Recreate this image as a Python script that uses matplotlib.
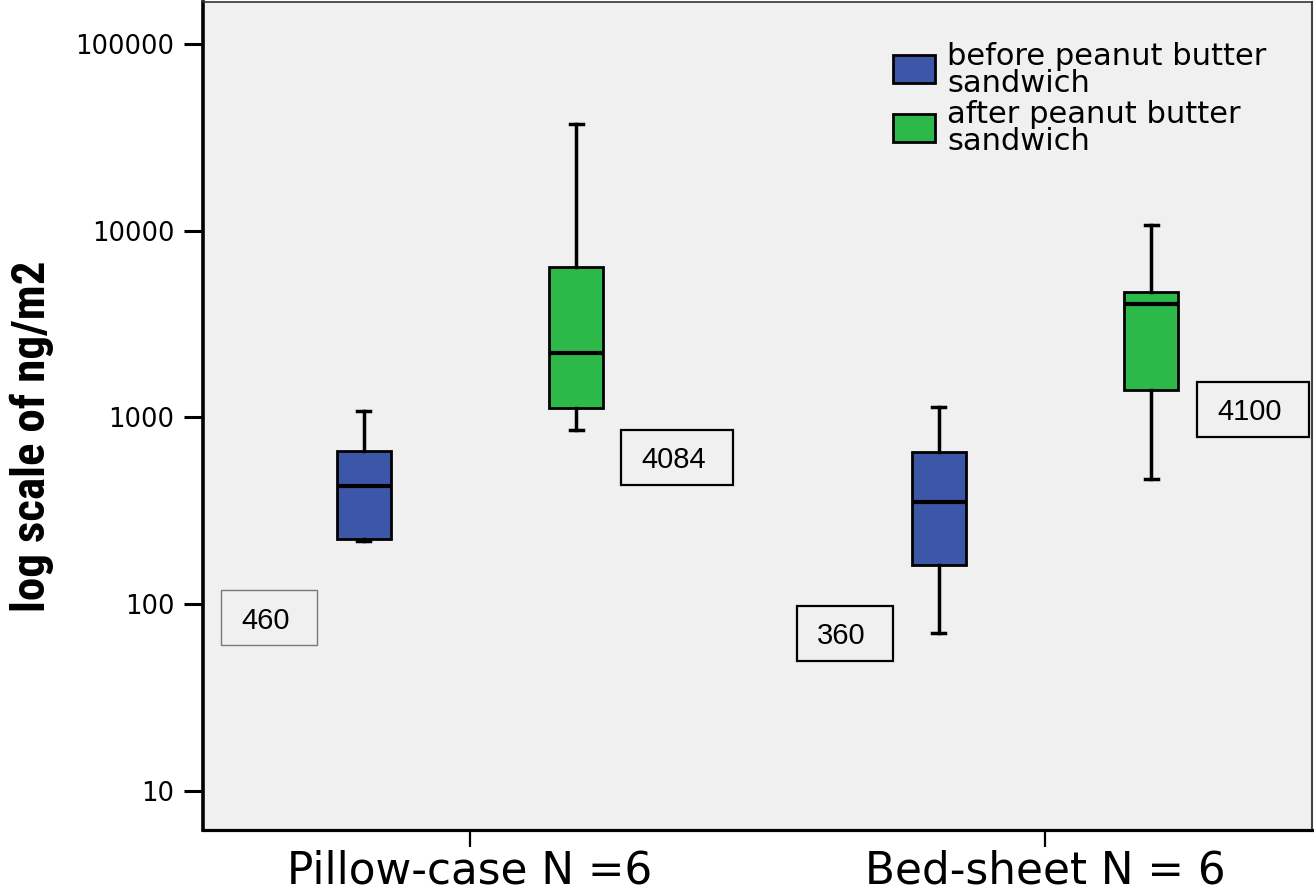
import os
import matplotlib
matplotlib.use("Agg")
import matplotlib.pyplot as plt
from matplotlib import font_manager
from matplotlib.font_manager import FontProperties
from matplotlib.patches import Rectangle
from matplotlib.ticker import NullLocator

# ---------------- data ----------------
categories = ["Pillow-case N =6", "Bed-sheet N = 6"]
series_names = ["before peanut butter\nsandwich", "after peanut butter\nsandwich"]
series_colors = ["#3D57A8", "#2DB84A"]

# five-number summaries per category: whisker low, Q1, median, Q3, whisker high (ng/m2)
before_whislo = [217, 70]
before_q1 = [223, 162]
before_med = [428, 351]
before_q3 = [663, 650]
before_whishi = [1078, 1132]

after_whislo = [859, 468]
after_q1 = [1119, 1403]
after_med = [2213, 4050]
after_q3 = [6368, 4677]
after_whishi = [37270, 10640]

annotation_values = ["460", "4084", "360", "4100"]

y_ticks = [10, 100, 1000, 10000, 100000]
y_ticklabels = ["10", "100", "1000", "10000", "100000"]
y_label = "log scale of ng/m2"

# ---------------- layout / style ----------------
W, H = 1314, 894
AX_L, AX_R, AX_T, AX_B = 203, 1312, 2, 830


def fx(px):
    return (px - AX_L) / (AX_R - AX_L)


def fy(py):
    return (AX_B - py) / (AX_B - AX_T)


fig = plt.figure(figsize=(W / 100, H / 100), dpi=100)
fig.patch.set_facecolor("white")
ax = fig.add_axes([AX_L / W, 1 - AX_B / H, (AX_R - AX_L) / W, (AX_B - AX_T) / H])
ax.set_facecolor("#F0F0F0")
ax.set_yscale("log")
ax.set_ylim(6.15, 167500)
ax.set_xlim(-0.4643, 1.4643)

offsets = [-0.185, 0.185]
box_width = 0.094
cap_width = 0.0226

series_stats = [
    (before_whislo, before_q1, before_med, before_q3, before_whishi),
    (after_whislo, after_q1, after_med, after_q3, after_whishi),
]
for s_idx, (wlo, q1, med, q3, whi) in enumerate(series_stats):
    stats = [dict(whislo=wlo[i], q1=q1[i], med=med[i], q3=q3[i], whishi=whi[i])
             for i in range(len(categories))]
    positions = [i + offsets[s_idx] for i in range(len(categories))]
    ax.bxp(stats, positions=positions, widths=box_width, capwidths=cap_width,
           showfliers=False, patch_artist=True, manage_ticks=False,
           boxprops=dict(facecolor=series_colors[s_idx], edgecolor="black", linewidth=2.0),
           medianprops=dict(color="black", linewidth=3.0, solid_capstyle="butt"),
           whiskerprops=dict(color="black", linewidth=2.5),
           capprops=dict(color="black", linewidth=2.5),
           zorder=3)

# ticks
ax.set_xticks(range(len(categories)))
ax.set_xticklabels(categories, fontsize=31.5, fontfamily="DejaVu Sans")
ax.set_yticks(y_ticks)
ax.set_yticklabels(y_ticklabels, fontsize=18.5, fontfamily="DejaVu Sans")
ax.yaxis.set_minor_locator(NullLocator())
ax.tick_params(axis="y", length=13.7, width=2.2, pad=7, color="black")
ax.tick_params(axis="x", length=12.2, width=1.6, pad=1.5, color="black")

# spines
ax.spines["left"].set_linewidth(2.6)
ax.spines["bottom"].set_linewidth(2.3)
ax.spines["top"].set_linewidth(1.2)
ax.spines["top"].set_color("#333333")
ax.spines["right"].set_linewidth(1.5)
ax.spines["right"].set_color("#444444")


# y label with a condensed bold face if one is installed
def pick_condensed_bold():
    prefs = [("notosans-", "extracondensedbold"),
             ("notosans-", "condensedbold"),
             ("robotocondensed", "bold"),
             ("liberationsansnarrow", "bold"),
             ("dejavusanscondensed", "bold"),
             ("opensans", "condensedbold")]
    files = sorted({f.fname for f in font_manager.fontManager.ttflist})
    for prefix, key in prefs:
        for fn in files:
            base = os.path.basename(fn).lower().replace(" ", "").replace("_", "")
            if "italic" in base or "oblique" in base:
                continue
            if base.startswith(prefix) and key in base.replace("-", "") \
                    and "semibold" not in base and "extrabold" not in base:
                if prefix == "notosans-" and key == "condensedbold" and \
                        ("extracondensed" in base or "semicondensed" in base):
                    continue
                return fn
    return None


cond = pick_condensed_bold()
if cond:
    ylab_fp = FontProperties(fname=cond, size=30)
else:
    ylab_fp = FontProperties(family="Liberation Sans", weight="bold", size=30)

ylab = ax.set_ylabel(y_label, fontproperties=ylab_fp, va="center", ha="center")
ax.yaxis.set_label_coords(fx(32), fy(436))

fig.canvas.draw()
r = fig.canvas.get_renderer()
length = ylab.get_window_extent(r).height
ylab.set_fontsize(30 * 352 / length)

# annotation boxes (x0, y-bottom in px, width, height in px) and text anchors
ann_boxes_px = [(221, 645, 96, 55), (621, 485, 112, 55), (797, 661, 96, 55), (1197, 437, 112, 55)]
ann_text_px = [(241, 629), (641, 468), (817, 644), (1217, 420)]
ann_edge = [("#777777", 1.0), ("black", 1.6), ("black", 1.6), ("black", 1.6)]
for val, (bx, by, bw, bh), (tx, ty), (ec, lw) in zip(annotation_values, ann_boxes_px, ann_text_px, ann_edge):
    ax.add_patch(Rectangle((fx(bx), fy(by)), bw / (AX_R - AX_L), bh / (AX_B - AX_T),
                           transform=ax.transAxes, facecolor="none", edgecolor=ec,
                           linewidth=lw, zorder=4))
    ax.text(fx(tx), fy(ty), val, transform=ax.transAxes, ha="left", va="baseline",
            fontsize=21, fontfamily="Liberation Sans", color="black", zorder=5)

# legend (drawn as patches + labels)
leg_patch_px = [(893, 83), (893, 142)]
leg_text_top_px = [42, 100]
for name, color, (px, py), ttop in zip(series_names, series_colors, leg_patch_px, leg_text_top_px):
    ax.add_patch(Rectangle((fx(px), fy(py)), 42 / (AX_R - AX_L), 28 / (AX_B - AX_T),
                           transform=ax.transAxes, facecolor=color, edgecolor="black",
                           linewidth=2.0, zorder=4))
    ax.text(fx(947), fy(ttop), name, transform=ax.transAxes, ha="left", va="top",
            fontsize=22, fontfamily="DejaVu Sans", linespacing=0.9, color="black", zorder=5)

fig.savefig("out.png", dpi=100)
